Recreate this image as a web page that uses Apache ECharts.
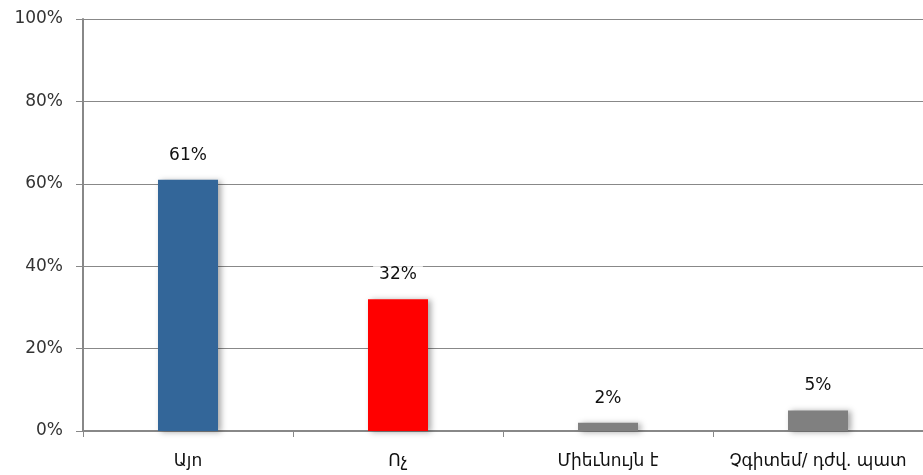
<!DOCTYPE html>
<html>
<head>
<meta charset="utf-8">
<script src="https://cdn.jsdelivr.net/npm/echarts@6/dist/echarts.min.js"></script>
<style>
  html, body { margin: 0; padding: 0; background: #fff; }
  #main { width: 923px; height: 475px; }
</style>
</head>
<body>
<div id="main"></div>
<script>
// answers (Armenian)
var categories = ['Այո', 'Ոչ', 'Միեւնույն է', 'Չգիտեմ/ դժվ. պատ'];
var values = [61, 32, 2, 5];
var barColors = ['#336699', '#ff0000', '#808080', '#808080'];
var yTicks = [0, 20, 40, 60, 80, 100];

var chart = echarts.init(document.getElementById('main'));

var option = {
    animation: false,
    // plot runs slightly past the right edge, as in the source image
    grid: { left: 83, width: 846, top: 19, bottom: 44 },
    xAxis: {
        type: 'category',
        data: categories,
        axisLine: { lineStyle: { color: '#888', width: 2 } },
        axisTick: { show: true, length: 6, lineStyle: { color: '#888' } },
        axisLabel: {
            interval: 0,
            color: '#111',
            fontFamily: 'DejaVu Sans',
            fontSize: 17,
            margin: 22
        }
    },
    yAxis: {
        type: 'value',
        min: yTicks[0],
        max: yTicks[yTicks.length - 1],
        interval: 20,
        axisLine: { show: true, lineStyle: { color: '#888', width: 2 } },
        axisTick: { show: true, length: 7, lineStyle: { color: '#888' } },
        splitLine: { lineStyle: { color: '#888', width: 1 } },
        axisLabel: {
            color: '#333',
            fontFamily: 'DejaVu Sans',
            fontSize: 17,
            margin: 20,
            formatter: '{value}%'
        }
    },
    series: [{
        type: 'bar',
        barWidth: 60,
        data: values.map(function (v, i) {
            return { value: v, itemStyle: { color: barColors[i] } };
        }),
        itemStyle: {
            shadowBlur: 6,
            shadowOffsetX: 3,
            shadowOffsetY: 1,
            shadowColor: 'rgba(0,0,0,0.35)'
        },
        label: {
            show: true,
            position: 'top',
            distance: 16,
            color: '#111',
            fontFamily: 'DejaVu Sans',
            fontSize: 17,
            backgroundColor: '#fff',
            padding: [0, 6],
            formatter: '{c}%'
        }
    }]
};

chart.setOption(option);
</script>
</body>
</html>
